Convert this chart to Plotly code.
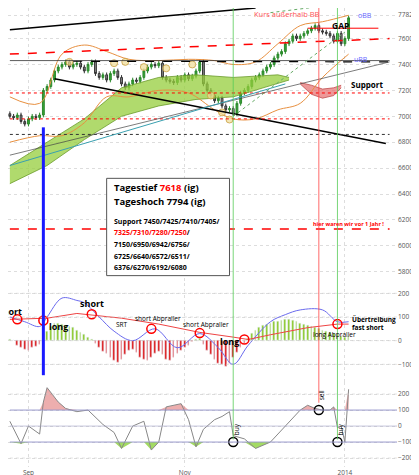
import plotly.graph_objects as go
import numpy as np

closes = [7000,6990,7010,6960,6940,6980,7000,6990,7010,
          7200,7230,7280,7350,7380,7400,
          7420,7380,7400,7410,7380,7350,7400,7420,
          7330,7300,7320,7280,7330,7350,7300,7250,7220,7250,
          7280,7270,7300,7350,7380,7400,7390,7410,
          7300,7280,7270,7260,7300,7280,7320,7290,7310,7350,7420,
          7250,7200,7160,7120,7140,7080,7050,7060,7020,
          7100,7180,7200,7230,7280,7300,7320,7350,7380,7400,
          7450,7480,7500,7560,7580,7620,7600,7620,7640,7660,
          7680,7700,7660,7650,7640,7620,7580,7640,7560,7600,7760]
opens = [7020] + closes[:-1]
wick = 18

cloud_x = [0, 10, 20, 30, 40, 50, 60, 66, 72, 75]
cloud_hi = [6620, 6800, 6980, 7220, 7300, 7320, 7300, 7310, 7320, 7300]
cloud_lo = [6480, 6620, 6820, 7000, 7080, 7130, 7150, 7200, 7250, 7280]
red_x = [78, 81, 84, 87, 89]
red_hi = [7260, 7240, 7210, 7220, 7240]
red_lo = [7250, 7170, 7140, 7160, 7220]

bb_x = [0, 8, 14, 20, 26, 32, 40, 48, 55, 60, 66, 72, 78, 84, 91]
bb_up = [7150, 7100, 7480, 7550, 7500, 7440, 7430, 7440, 7430, 7400, 7420, 7560, 7700, 7730, 7780]
bb_lo = [6800, 6850, 6850, 6950, 7150, 7150, 7200, 7180, 7050, 6980, 6980, 7050, 7100, 7300, 7480]

hist = [5,3,-20,-30,-35,-40,-30,-25,-15,
        10,40,60,72,75,70,
        65,60,55,45,35,25,15,5,
        -10,-30,-45,-55,-70,-85,-90,-80,-60,-40,
        -35,-50,-70,-80,-85,-70,-55,-45,
        -60,-80,-85,-70,-55,-40,-30,-20,-5,5,10,
        -15,-40,-60,-80,-95,-100,-110,-95,-70,
        -50,-30,-10,10,30,45,55,65,70,75,
        80,82,85,88,90,85,80,75,70,65,
        60,55,50,45,40,35,30,25,20,15,20]
macd_x = [0, 4, 8, 10, 14, 18, 20, 24, 28, 33, 39, 45, 51, 56, 60, 64, 70, 74, 78, 84, 88, 91]
macd_v = [100, 80, 60, 100, 180, 170, 160, 100, 40, 0, 50, -30, 30, -30, -100, -20, 80, 110, 130, 130, 80, 80]
sig_x = [0, 10, 18, 30, 40, 51, 60, 64, 70, 80, 88, 91]
sig_v = [90, 95, 115, 95, 70, 35, 15, 5, 25, 55, 70, 70]

cci_x = [0, 3, 5, 7, 8, 9, 10, 13, 15, 18, 21, 25, 28, 30, 33, 36, 38, 40, 42, 46, 48, 50, 52, 54, 55, 57, 59, 60, 63, 66, 70, 74, 78, 80, 82, 84, 86, 87, 88, 89, 90, 91]
cci_v = [30, -110, 0, -30, -50, 150, 240, 150, 110, 90, 100, 10, -40, -140, 0, 30, -150, -100, 120, 140, 40, -130, -20, 20, 40, 60, 90, -60, -80, -140, -100, 0, 100, 130, 110, 100, 100, 120, -10, 0, -100, 230]

fig = go.Figure()
fig.add_trace(go.Scatter(x=cloud_x, y=cloud_lo, mode="lines", line=dict(color="#6a9a2a", width=0.8), showlegend=False))
fig.add_trace(go.Scatter(x=cloud_x, y=cloud_hi, mode="lines", fill="tonexty", fillcolor="rgba(150,205,60,0.75)", line=dict(color="#6a9a2a", width=0.8), showlegend=False))
fig.add_trace(go.Scatter(x=red_x, y=red_lo, mode="lines", line=dict(color="#c05050", width=0.8), showlegend=False))
fig.add_trace(go.Scatter(x=red_x, y=red_hi, mode="lines", fill="tonexty", fillcolor="rgba(230,110,110,0.7)", line=dict(color="#c05050", width=0.8), showlegend=False))
fig.add_trace(go.Scatter(x=bb_x, y=bb_up, mode="lines", line=dict(color="#e89040", width=1, shape="spline"), showlegend=False))
fig.add_trace(go.Scatter(x=bb_x, y=bb_lo, mode="lines", line=dict(color="#e89040", width=1, shape="spline"), showlegend=False))
days = list(range(len(closes)))
fig.add_trace(go.Candlestick(x=days, open=opens, close=closes,
    high=[max(o, c) + wick for o, c in zip(opens, closes)],
    low=[min(o, c) - wick for o, c in zip(opens, closes)],
    increasing=dict(line=dict(color="#2a8a2a", width=1), fillcolor="#3aa03a"),
    decreasing=dict(line=dict(color="#333", width=1), fillcolor="#8a8a8a"),
    whiskerwidth=0, showlegend=False))
fig.add_trace(go.Bar(x=days, y=hist, marker_color=["#88c820" if v >= 0 else "#dd1111" for v in hist],
                     width=0.45, yaxis="y2", showlegend=False))
fig.add_trace(go.Scatter(x=macd_x, y=macd_v, mode="lines", line=dict(color="#6a6aee", width=1, shape="spline"), yaxis="y2", showlegend=False))
fig.add_trace(go.Scatter(x=sig_x, y=sig_v, mode="lines", line=dict(color="#ee4444", width=1), yaxis="y2", showlegend=False))
cv = np.array(cci_v, dtype=float)
fig.add_trace(go.Scatter(x=cci_x, y=[100]*len(cci_x), mode="lines", line=dict(width=0), yaxis="y3", showlegend=False))
fig.add_trace(go.Scatter(x=cci_x, y=np.maximum(cv, 100), mode="lines", line=dict(width=0), fill="tonexty", fillcolor="rgba(225,120,120,0.6)", yaxis="y3", showlegend=False))
fig.add_trace(go.Scatter(x=cci_x, y=[-100]*len(cci_x), mode="lines", line=dict(width=0), yaxis="y3", showlegend=False))
fig.add_trace(go.Scatter(x=cci_x, y=np.minimum(cv, -100), mode="lines", line=dict(width=0), fill="tonexty", fillcolor="rgba(140,210,60,0.8)", yaxis="y3", showlegend=False))
fig.add_trace(go.Scatter(x=cci_x, y=cci_v, mode="lines", line=dict(color="#888", width=1), yaxis="y3", showlegend=False))

shapes = []
def line(x0, y0, x1, y1, color, width=1, dash="solid", yref="y", xref="x"):
    shapes.append(dict(type="line", x0=x0, y0=y0, x1=x1, y1=y1, xref=xref, yref=yref,
                       line=dict(color=color, width=width, dash=dash)))
line(0, 7668, 66, 7836, "black", 1.5)
line(12, 7290, 101, 6790, "black", 1.5)
line(0, 7480, 102, 7600, "red", 1.5, "dash")
line(17, 7425, 102, 7420, "black", 1.2, "dash")
line(0, 7430, 102, 7430, "#333", 0.8)
line(0, 7180, 102, 7180, "red", 1, "dot")
line(0, 6980, 102, 6980, "red", 1, "dot")
line(0, 6860, 102, 6860, "#333", 1, "dot")
line(0, 6130, 102, 6130, "red", 1.3, "dash")
line(0, 6700, 102, 7420, "#444", 0.7)
line(0, 6620, 74, 7250, "#3aa0b0", 1)
line(80, 7680, 99, 7680, "red", 1)
line(70, 7800, 98, 7900, "#6a6", 1, "dot")
line(60, 7000, 90, 7650, "#6a6", 1, "dot")
for v in [200, 100, 0, -100]:
    line(0, v, 104, v, "#ccc", 0.6, "dot", yref="y2")
for v in [200, -200]:
    line(0, v, 104, v, "#ccc", 0.6, "dot", yref="y3")
for v in [100, -100]:
    line(0, v, 104, v, "#9999cc", 1, yref="y3")
line(0, 0, 104, 0, "#aac", 0.7, yref="y3")
line(9, 0.20, 9, 0.74, "#1a1aff", 3, xref="x", yref="paper")
line(60, 0.06, 60, 1, "#5c5", 0.8, xref="x", yref="paper")
line(88, 0.06, 88, 1, "#5c5", 0.8, xref="x", yref="paper")
line(83, 0.14, 83, 1, "#f44", 0.8, xref="x", yref="paper")
shapes.append(dict(type="rect", x0=26, x1=59, y0=5770, y1=6521, xref="x", yref="y",
                   fillcolor="white", line=dict(color="#555", width=1)))
fig.update_layout(shapes=shapes)

ann = []
def txt(x, y, t, size=8, color="black", yref="y", bold=False, xanchor="left", angle=0):
    ann.append(dict(x=x, y=y, xref="x", yref=yref, text=f"<b>{t}</b>" if bold else t, showarrow=False,
                    font=dict(size=size, color=color), xanchor=xanchor, textangle=angle))
txt(27.5, 6450, "Tagestief <span style='color:red'>7618</span> (ig)", 9.5, bold=True)
txt(27.5, 6340, "Tageshoch 7794 (ig)", 9.5, bold=True)
txt(27.5, 6190, "Support 7450/7425/7410/7405/", 7, bold=True)
txt(27.5, 6100, "<span style='color:red'>7325/7310/7280/7250</span>/", 7, bold=True)
txt(27.5, 6010, "7150/6950/6942/6756/", 7, bold=True)
txt(27.5, 5920, "6725/6640/6572/6511/", 7, bold=True)
txt(27.5, 5830, "6376/6270/6192/6080", 7, bold=True)
txt(65, 7790, "Kurs außerhalb BB", 7.5, "#f55")
txt(93, 7775, "oBB", 7, "#66f")
txt(86, 7700, "GAP", 8.5, bold=True)
txt(92, 7440, "uBB", 7, "#66f")
txt(91, 7245, "Support", 8, bold=True)
txt(81, 6170, "hier waren wir vor 1 Jahr !", 5.5, "red", bold=True)
txt(0, 125, "short", 9, yref="y2", bold=True, xanchor="center")
txt(10, 60, "long", 9, yref="y2", bold=True)
txt(22, 155, "short", 9, yref="y2", bold=True, xanchor="center")
txt(28, 70, "SRT", 6.5, yref="y2")
txt(33, 95, "short Abpraller", 6.5, yref="y2")
txt(46, 70, "short Abpraller", 6.5, yref="y2")
txt(56, -5, "long", 9, yref="y2", bold=True)
txt(81, 25, "long Abpraller", 6.5, yref="y2")
txt(91.5, 88, "Übertreibung", 6.5, yref="y2", bold=True)
txt(91.5, 55, "fast short", 6.5, yref="y2", bold=True)
txt(59, -20, "buy", 6.5, yref="y3", angle=-90)
txt(87, -20, "buy", 6.5, yref="y3", angle=-90)
txt(82, 190, "sell", 6.5, yref="y3", angle=-90)
fig.update_layout(annotations=ann)

fig.add_trace(go.Scatter(x=[2, 9, 22, 38, 51, 63, 88], y=[90, 85, 112, 50, 32, 5, 70], mode="markers",
    marker=dict(symbol="circle-open", size=9, color="red", line=dict(width=1.5)), yaxis="y2", showlegend=False))
fig.add_trace(go.Scatter(x=[60, 83, 88], y=[-100, 100, -100], mode="markers",
    marker=dict(symbol="circle-open", size=9, color="black", line=dict(width=1.5)), yaxis="y3", showlegend=False))
fig.add_trace(go.Scatter(x=[16, 28, 31, 36, 42, 49, 54, 57, 59], y=[7420, 7410, 7420, 7380, 7370, 7400, 7160, 7030, 6975],
    mode="markers", marker=dict(size=7, color="rgba(240,220,150,0.7)", line=dict(color="#c9a040", width=0.8)), showlegend=False))

ticks = dict(side="right", tickfont=dict(size=6.5, color="#555"), showgrid=True, gridcolor="#ddd",
             griddash="dot", zeroline=False, ticks="", anchor="x")
fig.update_layout(
    width=419, height=475, margin=dict(l=0, r=30, t=0, b=16),
    plot_bgcolor="white", paper_bgcolor="white", bargap=0,
    xaxis=dict(range=[-0.5, 104], tickvals=[5, 47, 90], ticktext=["Sep", "Nov", "2014"], anchor="y3",
               tickfont=dict(size=6.5, color="#555"), showgrid=True, gridcolor="#ddd", griddash="dot",
               rangeslider=dict(visible=False), zeroline=False),
    yaxis=dict(domain=[0.40, 1], range=[5710, 7836], tickformat=".1f",
               tickvals=[5800, 6000, 6200, 6400, 6600, 6800, 7000, 7200, 7400, 7600, 7782], **ticks),
    yaxis2=dict(domain=[0.185, 0.40], range=[-175, 242], tickvals=[-100, 0, 100, 200], tickformat="d", **ticks),
    yaxis3=dict(domain=[0, 0.185], range=[-256, 275], tickvals=[-200, -100, 0, 100, 200], tickformat="d", **ticks),
)
fig.write_html("out.html")
